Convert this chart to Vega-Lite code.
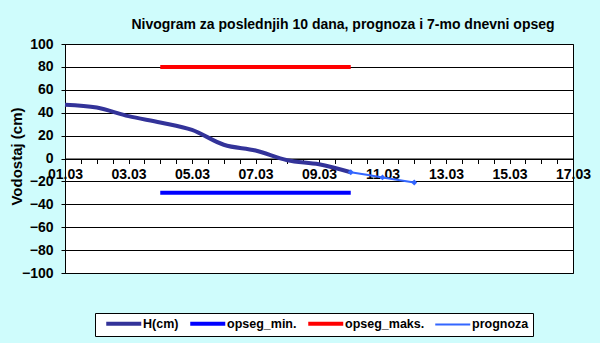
{
 "$schema": "https://vega.github.io/schema/vega-lite/v6.json",
 "width": 508,
 "height": 229,
 "autosize": {"type": "none"},
 "padding": {"left": 65, "top": 44, "right": 27, "bottom": 70},
 "background": "#CFFCFC",
 "title": {"text": "Nivogram za poslednjih 10 dana, prognoza i 7-mo dnevni opseg", "fontSize": 14, "fontWeight": "bold", "color": "black", "font": "Liberation Sans", "anchor": "middle", "dx": 24, "offset": 5},
 "datasets": {
  "h": [
   {"s": "H(cm)", "d": 1, "v": 47},
   {"s": "H(cm)", "d": 2, "v": 44.5},
   {"s": "H(cm)", "d": 3, "v": 37},
   {"s": "H(cm)", "d": 4, "v": 31.5},
   {"s": "H(cm)", "d": 5, "v": 25},
   {"s": "H(cm)", "d": 6, "v": 12},
   {"s": "H(cm)", "d": 7, "v": 7},
   {"s": "H(cm)", "d": 8, "v": -1.5},
   {"s": "H(cm)", "d": 9, "v": -5},
   {"s": "H(cm)", "d": 10, "v": -12}
  ],
  "mn": [
   {"s": "opseg_min.", "d": 4, "v": -30},
   {"s": "opseg_min.", "d": 10, "v": -30}
  ],
  "mx": [
   {"s": "opseg_maks.", "d": 4, "v": 80},
   {"s": "opseg_maks.", "d": 10, "v": 80}
  ],
  "pr": [
   {"s": "prognoza", "d": 10, "v": -12},
   {"s": "prognoza", "d": 11, "v": -16.5},
   {"s": "prognoza", "d": 12, "v": -21}
  ]
 },
 "encoding": {
  "x": {"field": "d", "type": "quantitative",
   "scale": {"domain": [1, 17], "nice": false, "zero": false},
   "axis": {"orient": "bottom", "offset": -114.5,
    "values": [1,1.5,2,2.5,3,3.5,4,4.5,5,5.5,6,6.5,7,7.5,8,8.5,9,9.5,10,10.5,11,11.5,12,12.5,13,13.5,14,14.5,15,15.5,16,16.5,17],
    "labelExpr": "datum.value % 2 === 1 ? (datum.value < 10 ? '0' : '') + datum.value + '.03' : ''",
    "tickSize": 5, "tickColor": "black", "domainColor": "black", "labelFontSize": 14, "labelFontWeight": "bold", "labelColor": "black", "labelFont": "Liberation Sans", "labelPadding": 4, "title": null, "grid": false, "labelFlush": false, "labelOverlap": false, "labelBound": false}},
  "y": {"field": "v", "type": "quantitative",
   "scale": {"domain": [-100, 100], "nice": false},
   "axis": {"values": [-100,-80,-60,-40,-20,0,20,40,60,80,100], "grid": true, "gridColor": "black", "gridOpacity": 1, "tickSize": 4, "tickColor": "black", "domainColor": "black", "labelFontSize": 14, "labelFontWeight": "bold", "labelColor": "black", "labelFont": "Liberation Sans", "labelPadding": 8, "title": "Vodostaj (cm)", "titleFontSize": 15, "titleFontWeight": "bold", "titleColor": "black", "titleFont": "Liberation Sans", "titleX": -41, "titleY": 112}},
  "color": {"field": "s", "type": "nominal",
   "scale": {"domain": ["H(cm)", "opseg_min.", "opseg_maks.", "prognoza"], "range": ["#333399", "#0000FF", "#FF0000", "#3366FF"]},
   "legend": {"title": null, "orient": "none", "legendX": 30, "legendY": 269, "direction": "horizontal", "fillColor": "white", "strokeColor": "black", "padding": 4, "symbolType": "M-2.5,0H2.5", "symbolSize": 196, "symbolStrokeWidth": 4, "symbolOffset": 18.5, "labelFontSize": 12.5, "labelFontWeight": "bold", "labelColor": "black", "labelFont": "Liberation Sans", "labelOffset": 13, "columnPadding": 3, "symbolOpacity": 1,
    "encode": {"symbols": {"update": {"strokeWidth": {"signal": "datum.value === 'prognoza' ? 2 : 4"}}}}}
  }
 },
 "layer": [
  {"data": {"name": "mn"}, "mark": {"type": "line", "strokeWidth": 4}},
  {"data": {"name": "mx"}, "mark": {"type": "line", "strokeWidth": 4}},
  {"data": {"name": "h"}, "mark": {"type": "line", "strokeWidth": 4, "interpolate": "monotone"}},
  {"data": {"name": "pr"}, "mark": {"type": "line", "strokeWidth": 2, "interpolate": "monotone", "point": {"shape": "diamond", "filled": true, "size": 35, "color": "#3366FF"}}}
 ],
 "config": {"view": {"fill": "white", "stroke": "black", "strokeWidth": 1}, "font": "Liberation Sans", "legend": {"symbolSize": 196}}
}
